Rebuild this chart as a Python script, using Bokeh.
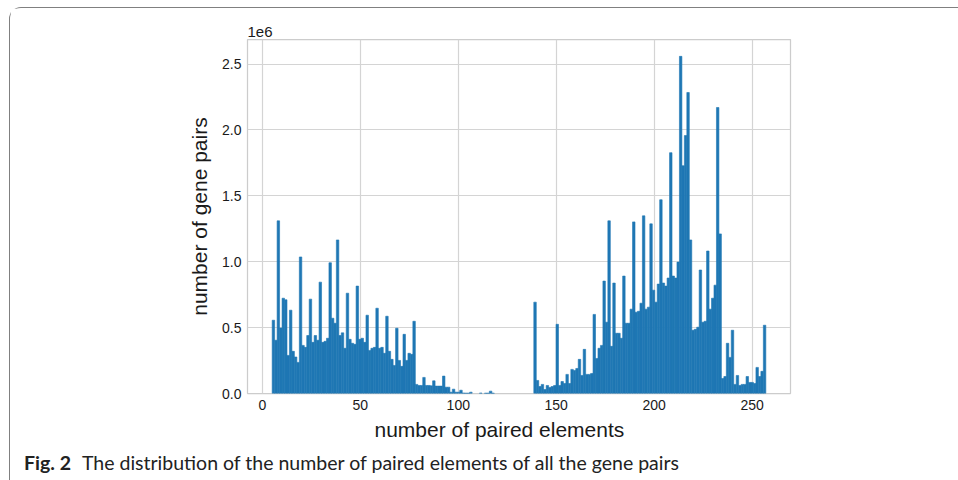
import numpy as np
from bokeh.plotting import figure
from bokeh.layouts import column
from bokeh.models import Range1d, FixedTicker, PrintfTickFormatter, Title, Div, ColumnDataSource
from bokeh.embed import file_html
from bokeh.resources import INLINE

# histogram definition (number of paired elements, 200 bins)
hist_min = 5
hist_max = 257
n_bins = 200

# bin heights, in units of 1e6 gene pairs
counts_low = [0.556, 0.404, 1.31, 0.497, 0.723, 0.711, 0.289, 0.632, 0.32, 0.277,
              0.236, 1.036, 0.365, 0.35, 0.44, 0.716, 0.388, 0.44, 0.404, 0.845,
              0.388, 0.396, 0.419, 0.992, 0.571, 0.533, 1.165, 0.44, 0.46, 0.343,
              0.761, 0.411, 0.381, 0.373, 0.815, 0.411, 0.419, 0.388, 0.594, 0.327,
              0.343, 0.35, 0.647, 0.343, 0.35, 0.305, 0.586, 0.32, 0.259, 0.213,
              0.495, 0.251, 0.206, 0.449, 0.251, 0.305, 0.297, 0.548]
counts_tail = [0.069, 0.061, 0.061, 0.122, 0.061, 0.061, 0.058, 0.096, 0.056, 0.056,
               0.056, 0.132, 0.048, 0.048, 0.010, 0.033, 0.010, 0.010, 0.025, 0.004,
               0.003, 0.003, 0.010, 0.0, 0.0, 0.0, 0.004, 0.0, 0.003, 0.003,
               0.018, 0.003, 0.0, 0.0, 0.0, 0.0, 0.0, 0.0, 0.0, 0.0,
               0.0, 0.0, 0.0, 0.0, 0.0, 0.0, 0.0, 0.0]
counts_high = [0.693, 0.099, 0.053, 0.069, 0.030, 0.061, 0.046, 0.053, 0.061, 0.525,
               0.061, 0.091, 0.076, 0.145, 0.076, 0.183, 0.175, 0.19, 0.259, 0.137,
               0.335, 0.145, 0.145, 0.152, 0.60, 0.266, 0.343, 0.365, 0.853, 0.541,
               1.31, 0.358, 0.838, 0.457, 0.457, 0.419, 0.891, 0.533, 0.533, 0.64,
               1.302, 0.617, 0.624, 0.685, 1.348, 0.64, 0.655, 1.287, 0.784, 0.693,
               0.83, 1.47, 0.838, 0.815, 0.876, 1.827, 0.891, 0.876, 0.997, 2.558,
               1.728, 1.957, 2.284, 1.165, 0.48, 0.487, 0.503, 0.937, 0.541, 0.548,
               1.081, 0.64, 0.723, 0.822, 2.17, 1.211, 0.114, 0.129, 0.381, 0.274,
               0.48, 0.069, 0.137, 0.061, 0.069, 0.069, 0.129, 0.084, 0.084, 0.076,
               0.198, 0.129, 0.168, 0.518]

x_ticks = [0, 50, 100, 150, 200, 250]
y_ticks = [0.0, 0.5, 1.0, 1.5, 2.0, 2.5]

x_label = "number of paired elements"
y_label = "number of gene pairs"
caption_bold = "Fig. 2"
caption_text = "The distribution of the number of paired elements of all the gene pairs"

counts = np.array(counts_low + counts_tail + counts_high)
edges = np.linspace(hist_min, hist_max, n_bins + 1)
keep = counts > 0
src = ColumnDataSource(dict(left=edges[:-1][keep], right=edges[1:][keep], top=counts[keep]))

span = hist_max - hist_min
x0, x1 = hist_min - 0.05 * span, hist_max + 0.05 * span
y1 = counts.max() * 1.05

TXT = "#1a1a1a"
FONT = "Liberation Sans"

p = figure(width=947, height=440, output_backend="svg", toolbar_location=None,
           x_range=Range1d(x0, x1), y_range=Range1d(0, y1),
           min_border_left=237, min_border_right=167, min_border_top=31, min_border_bottom=55)
p.background_fill_color = "white"
p.border_fill_color = "white"
p.outline_line_color = "#cccccc"
p.outline_line_width = 1.25

p.quad(left="left", right="right", bottom=0, top="top", source=src,
       fill_color="#1f77b4", line_color="#1f77b4", line_width=0.6)

p.xaxis.ticker = FixedTicker(ticks=x_ticks)
p.yaxis.ticker = FixedTicker(ticks=y_ticks)
p.yaxis.formatter = PrintfTickFormatter(format="%.1f")
p.xgrid.ticker = FixedTicker(ticks=x_ticks)
p.ygrid.ticker = FixedTicker(ticks=y_ticks)
for g in (p.xgrid, p.ygrid):
    g.grid_line_color = "#d4d4d4"
    g.grid_line_width = 1.2

for ax in (p.xaxis, p.yaxis):
    ax.axis_line_color = None
    ax.major_tick_line_color = None
    ax.minor_tick_line_color = None
    ax.major_tick_out = 0
    ax.major_tick_in = 0
    ax.minor_tick_out = 0
    ax.major_label_text_font = FONT
    ax.major_label_text_font_size = "14px"
    ax.major_label_text_color = TXT
    ax.axis_label_text_font = FONT
    ax.axis_label_text_font_size = "21px"
    ax.axis_label_text_font_style = "normal"
    ax.axis_label_text_color = TXT
    ax.major_label_standoff = 6

p.yaxis.axis_label = y_label
p.yaxis.axis_label_standoff = 8

# x axis label (sits a little left of the axis centre, as in the source)
p.add_layout(Title(text=x_label, align="left", offset=127, standoff=6,
                   text_font=FONT, text_font_size="21px", text_font_style="normal",
                   text_color=TXT), "below")

# offset text of the y axis
p.add_layout(Title(text="1e6", align="left", offset=0, standoff=6,
                   text_font=FONT, text_font_size="15px", text_font_style="normal",
                   text_color=TXT), "above")

cap = Div(width=947, height=31,
          text=('<div style="font-family:Lato;font-size:19.5px;color:#222;'
                'padding:0 0 0 9px;white-space:nowrap;line-height:20px">'
                '<b style="margin-right:11px">' + caption_bold + '</b>' + caption_text + '</div>'))

page = column(p, cap, styles={"border-top": "1.5px solid #808080",
                              "border-left": "1.5px solid #808080",
                              "border-top-left-radius": "12px",
                              "margin-left": "9px", "margin-top": "7px",
                              "background-color": "white"})

open("out.html", "w").write(file_html(page, INLINE))
